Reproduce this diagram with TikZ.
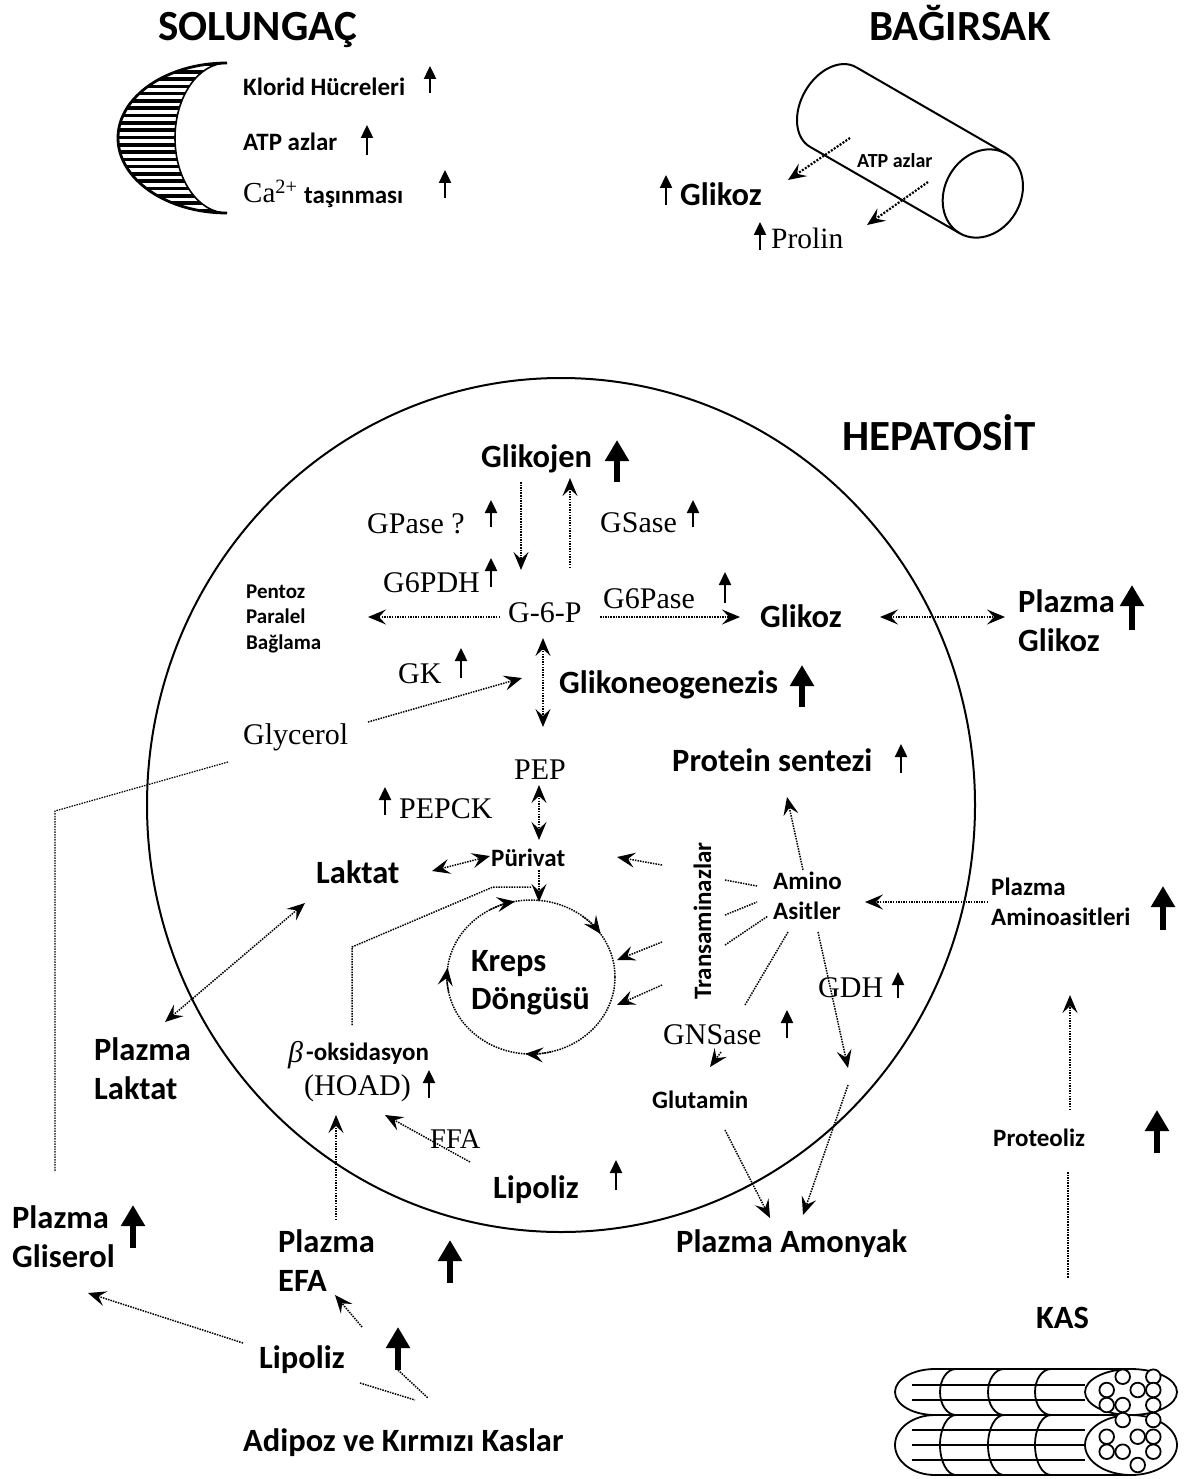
\documentclass[tikz,border=0pt]{standalone}
\usepackage{fontspec}
\setmainfont{Liberation Serif}
\setsansfont{Carlito}
\usetikzlibrary{arrows.meta,calc}
\begin{document}
\begin{tikzpicture}[x=1pt,y=-1pt,
  lb/.style={font=\sffamily\bfseries\fontsize{32.5}{39}\selectfont, inner sep=0pt, text height=21pt, text depth=0pt, anchor=west},
  lbs/.style={lb, font=\sffamily\bfseries\fontsize{25}{30}\selectfont, text height=16pt},
  lbx/.style={lb, font=\sffamily\bfseries\fontsize{21}{25}\selectfont, text height=13.5pt},
  ttl/.style={lb, font=\sffamily\bfseries\fontsize{43}{50}\selectfont, text height=28pt},
  tm/.style={font=\rmfamily\fontsize{30}{36}\selectfont, inner sep=0pt, text height=20pt, text depth=0pt, anchor=west},
  dotl/.style={line width=1.5pt, dash pattern=on 1.5pt off 1.1pt},
  conn/.style={dotl, -{Stealth[length=18pt,width=15pt,inset=7pt]}},
  dconn/.style={dotl, {Stealth[length=18pt,width=15pt,inset=7pt]}-{Stealth[length=18pt,width=15pt,inset=7pt]}},
  incr/.style={line width=2.4pt, -{Triangle[length=13pt,width=12pt]}},
  incrbig/.style={line width=5.5pt, -{Triangle[length=21pt,width=23pt]}},
]
\useasboundingbox[fill=white] (0,0) rectangle (1185,1479);

% ---------------- gill ----------------
\node[ttl] (solungac) at (158,27) {SOLUNGAÇ};
\begin{scope}
  \clip (227,63) arc[start angle=-90, end angle=-270, x radius=109, y radius=75]
        arc[start angle=90, end angle=270, x radius=52, y radius=75] -- cycle;
  \foreach \yy in {64.5,71.8,...,214} \draw[line width=3.6pt] (110,\yy) -- (235,\yy);
\end{scope}
\draw[line width=2.8pt] (227,63) arc[start angle=-90, end angle=-270, x radius=109, y radius=75];
\draw[line width=1.6pt] (227,63) arc[start angle=-90, end angle=-270, x radius=52, y radius=75];
\node[lbs] (klorid) at (243,88) {Klorid Hücreleri};
\node[lbs] (atpg) at (243,143) {ATP azlar};
\node[tm, font=\rmfamily\fontsize{29}{34}\selectfont] (ca) at (243,193) {Ca\textsuperscript{2+}};
\node[lbs] (tasin) at (304,196) {taşınması};
\draw[incr] (430,93) -- (430,66);
\draw[incr] (367,155) -- (367,125);
\draw[incr] (445,198) -- (445,170);

% ---------------- intestine ----------------
\node[ttl] (bagirsak) at (869,27) {BAĞIRSAK};
\begin{scope}[shift={(833,107)}, rotate=-30, line width=2pt]
  \draw (0,-46) -- (173,-46);
  \draw (0,46) -- (173,46);
  \draw (0,-46) arc[start angle=-90, end angle=-270, x radius=32, y radius=46];
  \draw (173,0) ellipse [x radius=38, y radius=46];
\end{scope}
\node[lbx, font=\sffamily\bfseries\fontsize{20}{24}\selectfont, text height=13pt] (atpi) at (857,161) {ATP azlar};
\node[lb] (glikozI) at (680,195) {Glikoz};
\node[tm, font=\rmfamily\fontsize{29.5}{35}\selectfont] (prolin) at (771,238) {Prolin};
\coordinate (i1a) at (850,138); \coordinate (i1b) at (788,180);
\coordinate (i2a) at (928,182); \coordinate (i2b) at (867,225);
\draw[conn, line width=2.2pt, dash pattern=on 2pt off 1.5pt] (i1a) -- (i1b);
\draw[conn, line width=2.2pt, dash pattern=on 2pt off 1.5pt] (i2a) -- (i2b);
\draw[incr] (666,205) -- (666,175);
\draw[incr] (760,250) -- (760,222);

% ---------------- hepatocyte ----------------
\node[ttl] (hepatosit) at (842,436) {HEPATOSİT};
\draw[line width=2pt] (561,805) ellipse [x radius=414, y radius=427];

\node[lb] (glikojen) at (481,457) {Glikojen};
\draw[incrbig] (617,482) -- (617,440);
\node[tm] (gpase) at (367,523) {GPase ?};
\draw[incr] (491,527) -- (491,500);
\node[tm] (gsase) at (600,522) {GSase};
\draw[incr] (693,527) -- (693,500);
\node[tm] (g6pdh) at (383,582) {G6PDH};
\draw[incr] (491,587) -- (491,558);
\node[tm] (g6p) at (508,612) {G-6-P};
\node[lbx] (pentoz) at (246,592) {Pentoz};
\node[lbx] (paralel) at (246,617) {Paralel};
\node[lbx] (baglama) at (246,643) {Bağlama};
\node[tm] (g6pase) at (603,598) {G6Pase};
\draw[incr] (725,603) -- (725,572);
\node[lb] (glikoz) at (760,617) {Glikoz};
\node[lb] (pglik1) at (1018,602) {Plazma};
\node[lb] (pglik2) at (1018,641) {Glikoz};
\draw[incrbig] (1132,630) -- (1132,585);
\node[tm] (gk) at (398,673) {GK};
\draw[incr] (461,678) -- (461,648);
\node[lb] (gneo) at (559,683) {Glikoneogenezis};
\draw[incrbig] (802,707) -- (802,665);
\node[tm] (glycerol) at (243,734) {Glycerol};
\node[tm] (pep) at (514,769) {PEP};
\node[tm] (pepck) at (399,808) {PEPCK};
\draw[incr] (385,815) -- (385,787);
\node[lbs] (purivat) at (491,858) {Pürivat};
\node[lb] (laktat) at (316,873) {Laktat};
\node[lb] (kreps) at (471,961) {Kreps};
\node[lb] (dongu) at (471,999) {Döngüsü};
\node[lbs, rotate=90, anchor=center] (trans) at (703,921) {Transaminazlar};
\node[lbs] (amino) at (773,881) {Amino};
\node[lbs] (asitler) at (773,911) {Asitler};
\node[lb] (protein) at (672,761) {Protein sentezi};
\draw[incr] (901,773) -- (901,744);
\node[lbs] (paa1) at (991,887) {Plazma};
\node[lbs] (paa2) at (991,917) {Aminoasitleri};
\draw[incrbig] (1163,930) -- (1163,886);
\node[tm] (gdh) at (818,987) {GDH};
\draw[incr] (898,998) -- (898,972);
\node[tm] (gnsase) at (663,1034) {GNSase};
\draw[incr] (787,1038) -- (787,1010);
\node[lbs] (glutamin) at (652,1100) {Glutamin};
\node[lb] (amonyak) at (676,1242) {Plazma Amonyak};
\node[tm, font=\rmfamily\itshape\fontsize{30}{36}\selectfont] (beta) at (288,1052) {β};
\node[lbs] (boks) at (306,1052) {-oksidasyon};
\node[tm] (hoad) at (304,1085) {(HOAD)};
\draw[incr] (429,1098) -- (429,1070);
\node[tm, font=\rmfamily\fontsize{28.5}{34}\selectfont] (ffa) at (430,1138) {FFA};
\node[lb] (lipin) at (493,1188) {Lipoliz};
\draw[incr] (616,1190) -- (616,1160);

% connectors inside the cell
\coordinate (gjd1) at (521,482); \coordinate (gjd2) at (521,570);
\coordinate (gju1) at (570,568); \coordinate (gju2) at (570,478);
\draw[conn] (gjd1) -- (gjd2);
\draw[conn] (gju1) -- (gju2);
\coordinate (g6pL) at (500,617); \coordinate (pentE) at (368,617);
\draw[conn] (g6pL) -- (pentE);
\coordinate (g6pR) at (600,617); \coordinate (glkW) at (740,617);
\draw[conn] (g6pR) -- (glkW);
\coordinate (glkE) at (880,617); \coordinate (pglW) at (1005,617);
\draw[dconn] (glkE) -- (pglW);
\coordinate (g6pS) at (543,638); \coordinate (gnS) at (543,727);
\draw[dconn] (g6pS) -- (gnS);
\coordinate (glyE) at (368,722); \coordinate (gkT) at (522,678);
\draw[conn] (glyE) -- (gkT);
\coordinate (glyS) at (228,762); \coordinate (glyK) at (55,811); \coordinate (glyB) at (55,1172);
\draw[dotl, line width=1.2pt] (glyS) -- (glyK) -- (glyB);
\coordinate (pepS) at (539,785); \coordinate (purN) at (539,840);
\draw[dconn] (pepS) -- (purN);
\coordinate (lakE) at (432,871); \coordinate (purW) at (490,856);
\draw[dconn] (lakE) -- (purW);
\coordinate (purS) at (539,870); \coordinate (krN) at (539,902);
\draw[conn] (purS) -- (krN);
\coordinate (bo1) at (352,1025); \coordinate (bo2) at (352,947);
\coordinate (bo3) at (493,887); \coordinate (bo4) at (532,887);
\draw[dotl] (bo1) -- (bo2) -- (bo3) -- (bo4);

% Krebs cycle
\coordinate (kc) at (531,977);
\draw[dotl] (kc) ellipse [x radius=84, y radius=77];
\foreach \a in {-101,-34,94,187}
  \draw[conn] ($(kc)+({84*cos(\a-18)},{77*sin(\a-18)})$)
     arc[start angle=\a-18, end angle=\a, x radius=84, y radius=77];

% transaminase connections
\coordinate (tr1) at (662,865); \coordinate (tr1e) at (617,857);
\coordinate (tr2) at (662,942); \coordinate (tr2e) at (617,960);
\coordinate (tr3) at (662,985); \coordinate (tr3e) at (617,1005);
\draw[conn] (tr1) -- (tr1e);
\draw[conn] (tr2) -- (tr2e);
\draw[conn] (tr3) -- (tr3e);
\coordinate (ta1) at (725,880); \coordinate (tb1) at (757,886);
\coordinate (ta2) at (725,915); \coordinate (tb2) at (757,902);
\coordinate (ta3) at (725,945); \coordinate (tb3) at (768,916);
\draw[dotl] (ta1) -- (tb1);
\draw[dotl] (ta2) -- (tb2);
\draw[dotl] (ta3) -- (tb3);
\coordinate (amN) at (803,870); \coordinate (prS) at (787,797);
\draw[conn] (amN) -- (prS);
\coordinate (paaW) at (988,902); \coordinate (amE) at (865,902);
\draw[conn] (paaW) -- (amE);
\coordinate (amS1) at (788,932); \coordinate (gnsN) at (745,1005);
\draw[dotl] (amS1) -- (gnsN);
\coordinate (amS2) at (818,932); \coordinate (gdhS) at (848,1068);
\draw[conn] (amS2) -- (gdhS);
\coordinate (gnsS) at (721,1052); \coordinate (gluN) at (710,1067);
\draw[conn] (gnsS) -- (gluN);
\coordinate (gluS) at (725,1130); \coordinate (amoN1) at (770,1218);
\draw[conn] (gluS) -- (amoN1);
\coordinate (gdhB) at (848,1085); \coordinate (amoN2) at (803,1215);
\draw[conn] (gdhB) -- (amoN2);

% lipid side
\coordinate (lipW) at (470,1162); \coordinate (hoadS) at (385,1115);
\draw[conn] (lipW) -- (hoadS);
\coordinate (efaN) at (336,1220); \coordinate (hoadB) at (336,1115);
\draw[conn] (efaN) -- (hoadB);

% ---------------- plasma and peripheral tissues ----------------
\node[lb] (plak1) at (94,1050) {Plazma};
\node[lb] (plak2) at (94,1089) {Laktat};
\coordinate (plakN) at (165,1022); \coordinate (lakSW) at (305,903);
\draw[dconn] (plakN) -- (lakSW);
\node[lb] (pgli1) at (12,1218) {Plazma};
\node[lb] (pgli2) at (12,1257) {Gliserol};
\draw[incrbig] (133,1248) -- (133,1205);
\node[lb] (pefa1) at (278,1242) {Plazma};
\node[lb] (pefa2) at (278,1281) {EFA};
\draw[incrbig] (450,1283) -- (450,1240);
\node[lb] (lipout) at (259,1358) {Lipoliz};
\draw[incrbig] (398,1370) -- (398,1327);
\node[lb] (adipoz) at (243,1441) {Adipoz ve Kırmızı Kaslar};
\coordinate (lo1) at (243,1343); \coordinate (pgliE) at (88,1293);
\draw[conn] (lo1) -- (pgliE);
\coordinate (lo2) at (362,1327); \coordinate (pefaS) at (335,1295);
\draw[conn] (lo2) -- (pefaS);
\coordinate (ad1a) at (360,1383); \coordinate (ad1b) at (415,1400);
\coordinate (ad2a) at (398,1370); \coordinate (ad2b) at (428,1398);
\draw[dotl] (ad1a) -- (ad1b);
\draw[dotl] (ad2a) -- (ad2b);

\node[lbs] (proteoliz) at (993,1138) {Proteoliz};
\draw[incrbig] (1157,1153) -- (1157,1110);
\coordinate (prtN) at (1070,1110); \coordinate (paaS) at (1070,995);
\draw[conn] (prtN) -- (paaS);
\coordinate (prtS) at (1068,1172); \coordinate (kasN) at (1068,1278);
\draw[dotl] (prtS) -- (kasN);
\node[lb] (kas) at (1036,1318) {KAS};

% muscle bundle
\begin{scope}[line width=1.8pt]
  \draw (1131,1369) -- (935,1369) arc[start angle=-90, end angle=-270, x radius=40, y radius=23] -- (1131,1415);
  \draw (1131,1415) -- (935,1415) arc[start angle=-90, end angle=-270, x radius=40, y radius=30] -- (1131,1475);
  \foreach \yy in {1385,1400,1430,1445,1460} \draw (912,\yy) -- (1085,\yy);
  \foreach \xx in {940,988,1035} {
    \draw (\xx+16,1369) arc[start angle=-90, end angle=-270, x radius=16, y radius=23];
    \draw (\xx+16,1415) arc[start angle=-90, end angle=-270, x radius=16, y radius=30];
  }
  \draw[fill=white] (1131,1392) ellipse [x radius=46, y radius=23];
  \draw[fill=white] (1131,1445) ellipse [x radius=46, y radius=30];
  \foreach \p in {(1122.7,1376.7),(1153.3,1376.7),(1106.7,1390),(1137.7,1390),(1153.3,1390),
                  (1106.7,1405),(1122.7,1405),(1153.3,1405),(1122.7,1420),(1153.3,1420),
                  (1106.7,1436.7),(1137.7,1436.7),(1153.3,1436.7),(1106.7,1451.7),
                  (1122.7,1451.7),(1153.3,1451.7),(1137.7,1465)}
    \draw[fill=white] \p circle[radius=7.3];
\end{scope}
\end{tikzpicture}
\end{document}
